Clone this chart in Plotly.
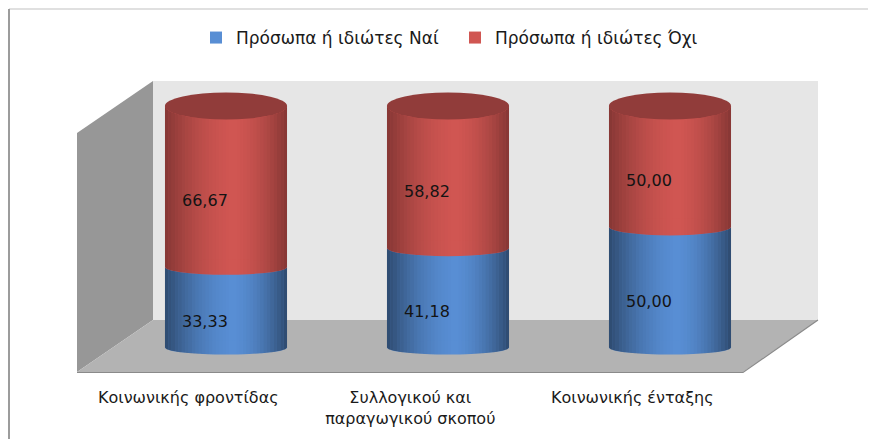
import numpy as np
import plotly.graph_objects as go

# ---------------- data ----------------
categories = ["Κοινωνικής φροντίδας", "Συλλογικού και<br>παραγωγικού σκοπού", "Κοινωνικής ένταξης"]
series_names = ["Πρόσωπα ή ιδιώτες Ναί", "Πρόσωπα ή ιδιώτες Όχι"]
yes_values = [33.33, 41.18, 50.00]
no_values = [66.67, 58.82, 50.00]

# ---------------- style ----------------
PAGE_OFF = 8                     # default page margin of the html body
W_FIG, H_FIG = 876, 439
L_S, T_S, R_S, B_S = 77, 60, 818, 372     # plot area in screen pixels
M_L, M_T = L_S - PAGE_OFF, T_S - PAGE_OFF
PW, PH = R_S - L_S, B_S - T_S
M_R = W_FIG - M_L - PW
M_B = H_FIG - M_T - PH
FONT = "DejaVu Sans"
BLUE = "#588ed4"
RED = "#d05652"
CAP = "#913c3a"
BAR_W = 0.55
X_RANGE = [-0.6712, 2.6667]
Y_RANGE = [-10.145, 119.05]
PX_PER_UNIT = PH / (Y_RANGE[1] - Y_RANGE[0])
LABEL_SHIFT = 0.17


def pp(px, py):
    """screen pixel -> paper coordinates (decoration only)"""
    return (px - L_S) / PW, (B_S - py) / PH


def poly_paper(points):
    s = ""
    for i, (px, py) in enumerate(points):
        x, y = pp(px, py)
        s += ("M" if i == 0 else "L") + f"{x:.5f},{y:.5f} "
    return s + "Z"


fig = go.Figure()
xs = list(range(len(categories)))
fig.add_trace(go.Bar(x=xs, y=yes_values, name=series_names[0], marker=dict(color=BLUE, line=dict(width=0)),
                     width=BAR_W, hoverinfo="skip"))
fig.add_trace(go.Bar(x=xs, y=no_values, name=series_names[1], marker=dict(color=RED, line=dict(width=0)),
                     width=BAR_W, hoverinfo="skip"))

shapes = []
# walls (paper coordinates, decoration)
shapes.append(dict(type="path", xref="paper", yref="paper", layer="below",
                   path=poly_paper([(153, 81), (818, 81), (818, 320), (153, 320)]),
                   fillcolor="#e6e6e6", line=dict(width=0)))
shapes.append(dict(type="path", xref="paper", yref="paper", layer="below",
                   path=poly_paper([(77, 133), (153, 81), (153, 320), (77, 372)]),
                   fillcolor="#979797", line=dict(width=0)))
shapes.append(dict(type="path", xref="paper", yref="paper", layer="below",
                   path=poly_paper([(153, 320), (818, 320), (743, 372), (77, 372)]),
                   fillcolor="#b3b3b3", line=dict(width=0)))
x0, y0 = pp(77, 372.5); x1, y1 = pp(743, 372.5); x2, y2 = pp(818, 320)
shapes.append(dict(type="path", xref="paper", yref="paper", layer="below",
                   path=f"M{x0},{y0} L{x1},{y1} L{x2},{y2}", line=dict(color="#8a8a8a", width=1.2)))
# outer frame
fx0, fy0 = pp(9, 9); fx1, fy1 = pp(880, 9); fx2, fy2 = pp(9, 445)
shapes.append(dict(type="line", xref="paper", yref="paper", x0=fx0, y0=fy0, x1=fx1, y1=fy1,
                   line=dict(color="#d6d6d6", width=1.5)))
shapes.append(dict(type="line", xref="paper", yref="paper", x0=fx0, y0=fy0, x1=fx2, y1=fy2,
                   line=dict(color="#9c9c9c", width=2)))


def half_h(v):
    """ellipse half-height (data units) for perspective look"""
    return (7 + 6.5 * (v / 100.0) ** 2) / PX_PER_UNIT


def front_arc(c, rw, v, xv):
    t = np.clip((xv - c) / rw, -1, 1)
    return v - half_h(v) * np.sqrt(1 - t ** 2)


def shade(u, amax):
    u0 = 0.56
    d = (u0 - u) / u0 if u < u0 else (u - u0) / (1 - u0)
    return amax * d ** 1.7


N_STRIPES = 36
rw = BAR_W / 2
for i in xs:
    segs = [(0.0, yes_values[i], BLUE, 0.48), (yes_values[i], yes_values[i] + no_values[i], RED, 0.36)]
    for (b, t, col, amax) in segs:
        hb = half_h(b)
        shapes.append(dict(type="circle", xref="x", yref="y", x0=i - rw, x1=i + rw, y0=b - hb, y1=b + hb,
                           fillcolor=col, line=dict(width=0)))
        edges = np.linspace(i - rw, i + rw, N_STRIPES + 1)
        for k in range(N_STRIPES):
            xa, xb = edges[k], edges[k + 1]
            u = (k + 0.5) / N_STRIPES
            a = shade(u, amax)
            xx = np.linspace(xa, xb, 3)
            bot = front_arc(i, rw, b, xx)
            top = front_arc(i, rw, t, xx[::-1])
            pts = list(zip(xx, bot)) + list(zip(xx[::-1], top))
            path = "M" + " L".join(f"{px:.5f},{py:.4f}" for px, py in pts) + " Z"
            shapes.append(dict(type="path", xref="x", yref="y", path=path,
                               fillcolor=f"rgba(0,0,0,{a:.3f})", line=dict(width=0)))
    top_v = yes_values[i] + no_values[i]
    ht = half_h(top_v)
    shapes.append(dict(type="circle", xref="x", yref="y", x0=i - rw, x1=i + rw, y0=top_v - ht, y1=top_v + ht,
                       fillcolor=CAP, line=dict(width=0)))

annotations = []
for i in xs:
    for b, v in [(0.0, yes_values[i]), (yes_values[i], no_values[i])]:
        annotations.append(dict(x=i, y=b + v / 2, xref="x", yref="y", text=f"{v:.2f}".replace(".", ","),
                                showarrow=False, xshift=-21, yshift=-14,
                                font=dict(family=FONT, size=16, color="#141414")))

lx, ly = pp(196, 38)
fig.update_layout(
    width=W_FIG, height=H_FIG,
    margin=dict(l=M_L, r=M_R, t=M_T, b=M_B),
    barmode="stack",
    paper_bgcolor="white", plot_bgcolor="white",
    shapes=shapes, annotations=annotations,
    showlegend=True,
    legend=dict(orientation="h", x=lx, xanchor="left", y=ly, yanchor="middle",
                font=dict(family=FONT, size=17, color="#1a1a1a"), bgcolor="rgba(0,0,0,0)",
                traceorder="normal", entrywidth=214, entrywidthmode="pixels"),
    xaxis=dict(range=X_RANGE, tickmode="array", tickvals=[x - LABEL_SHIFT for x in xs], ticktext=categories,
               showgrid=False, zeroline=False, showline=False, ticks="", ticklabelstandoff=14,
               tickfont=dict(family=FONT, size=16, color="#1a1a1a")),
    yaxis=dict(range=Y_RANGE, showgrid=False, zeroline=False, showline=False, showticklabels=False, ticks=""),
    font=dict(family=FONT),
)

fig.write_html("out.html")
